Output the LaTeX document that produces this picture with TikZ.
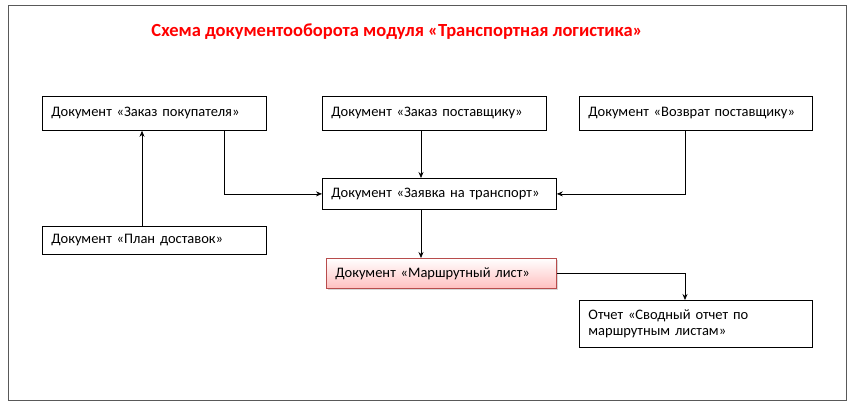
\documentclass[tikz,border=0pt]{standalone}
\usepackage{fontspec}
\setmainfont{Carlito}
\usetikzlibrary{arrows.meta,shadows}
\begin{document}
\begin{tikzpicture}[x=1pt,y=-1pt,
  box/.style={draw=black,line width=0.8pt,fill=white,anchor=north west,inner xsep=9pt,align=left,font=\fontsize{14.5}{16}\selectfont},
  arr/.style={-{Stealth[length=6pt,width=5pt]},line width=0.7pt}]
\useasboundingbox (0,0) rectangle (854,408);
\fill[white] (0,0) rectangle (854,408);
\draw[line width=0.8pt,draw=gray!70!black] (8,5) rectangle (846,400);
\node[font=\bfseries\fontsize{18.5}{21}\selectfont,text=red] (title) at (397,32) {Схема документооборота модуля «Транспортная логистика»};
\node[box,minimum width=224pt,minimum height=34pt,text width=206pt] (A) at (42,96) {Документ «Заказ покупателя»};
\node[box,minimum width=224pt,minimum height=34pt,text width=206pt] (B) at (322,96) {Документ «Заказ поставщику»};
\node[box,minimum width=233pt,minimum height=34pt,text width=215pt] (C) at (579,96) {Документ «Возврат поставщику»};
\node[box,minimum width=234pt,minimum height=31pt,text width=216pt] (D) at (322,178) {Документ «Заявка на транспорт»};
\node[box,minimum width=224pt,minimum height=28pt,text width=206pt] (E) at (42,226) {Документ «План доставок»};
\node[box,draw=red!60!black!70,top color=white,bottom color=red!25,drop shadow={opacity=0.3,shadow xshift=2pt,shadow yshift=-2pt},minimum width=230pt,minimum height=30pt,text width=212pt] (F) at (326,258) {Документ «Маршрутный лист»};
\node[box,minimum width=233pt,minimum height=47pt,text width=215pt] (G) at (579,300) {Отчет «Сводный отчет по\\ маршрутным листам»};
\draw[arr] (E.north west -| 142,0) -- (A.south west -| 142,0);
\draw[arr] (A.south west -| 224,0) |- (D.west);
\draw[arr] (B.south west -| 421,0) -- (D.north west -| 421,0);
\draw[arr] (C.south west -| 685,0) |- (D.east);
\draw[arr] (D.south west -| 421,0) -- (F.north west -| 421,0);
\draw[arr] (F.east) -| (G.north west -| 685,0);
\end{tikzpicture}
\end{document}
